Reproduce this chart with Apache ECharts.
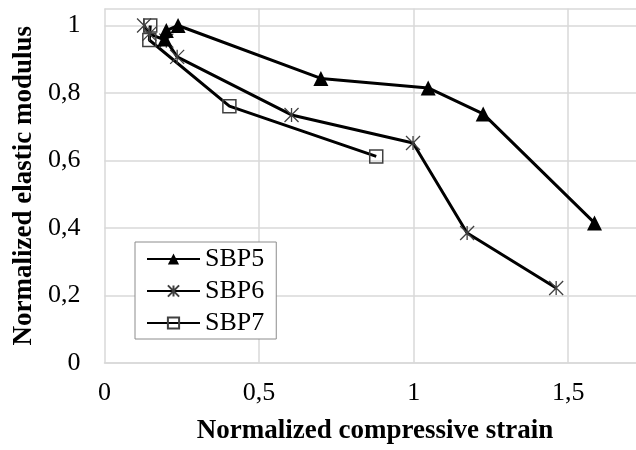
<!DOCTYPE html>
<html>
<head>
<meta charset="utf-8">
<script src="https://cdn.jsdelivr.net/npm/echarts@6/dist/echarts.min.js"></script>
<style>
  html, body { margin: 0; padding: 0; background: #fff; }
  #main { width: 636px; height: 450px; }
</style>
</head>
<body>
<div id="main"></div>
<script>
// values
var sbp5X = [0.195, 0.2, 0.238, 0.7, 1.047, 1.225, 1.585]
var sbp5Y = [0.96, 0.985, 1.0, 0.843, 0.815, 0.738, 0.415]
var sbp6X = [0.128, 0.145, 0.2, 0.235, 0.605, 0.998, 1.173, 1.461]
var sbp6Y = [1.0, 0.975, 0.955, 0.907, 0.735, 0.652, 0.385, 0.222]
var sbp7X = [0.148, 0.145, 0.404, 0.879]
var sbp7Y = [1.0, 0.957, 0.761, 0.612]

var FONT = 'Liberation Serif'
var STAR = 'path://M0,0L10,10M10,0L0,10M5,0L5,10'

function pairs(xs, ys) {
  var out = []
  for (var i = 0; i < xs.length; i++) out.push([xs[i], ys[i]])
  return out
}
function comma(v) {
  return String(v).replace('.', ',')
}

var chart = echarts.init(document.getElementById('main'))

var option = {
  animation: false,
  textStyle: { fontFamily: FONT },
  // plot runs past the right edge of the picture
  grid: { left: 104.5, top: 8.6, width: 541, height: 354.4, outerBoundsMode: 'none', containLabel: false },
  legend: {
    orient: 'vertical',
    left: 135,
    top: 242,
    padding: [4, 12, 3, 11],
    backgroundColor: '#fff',
    borderColor: '#8c8c8c',
    borderWidth: 1,
    itemWidth: 53,
    itemHeight: 14,
    itemGap: 6,
    textStyle: { fontFamily: FONT, fontSize: 26, color: '#000', lineHeight: 26 },
    data: ['SBP5', 'SBP6', 'SBP7']
  },
  xAxis: {
    type: 'value',
    min: 0,
    max: 1.75,
    interval: 0.5,
    name: 'Normalized compressive strain',
    nameLocation: 'middle',
    nameGap: 55,
    nameTextStyle: { fontFamily: FONT, fontSize: 27, fontWeight: 'bold', color: '#000' },
    axisLine: { show: true, lineStyle: { color: '#d9d9d9', width: 1.5 } },
    axisTick: { show: false },
    axisLabel: { fontFamily: FONT, fontSize: 26, color: '#000', margin: 17, showMaxLabel: false, formatter: comma },
    splitLine: { show: true, lineStyle: { color: '#d9d9d9', width: 1.5 } }
  },
  yAxis: {
    type: 'value',
    min: 0,
    max: 1.05,
    interval: 0.2,
    name: 'Normalized elastic modulus',
    nameLocation: 'middle',
    nameGap: 64,
    nameTextStyle: { fontFamily: FONT, fontSize: 27, fontWeight: 'bold', color: '#000' },
    axisLine: { show: false },
    axisTick: { show: false },
    axisLabel: { fontFamily: FONT, fontSize: 26, color: '#000', margin: 24, showMaxLabel: false, formatter: comma },
    splitLine: { show: true, lineStyle: { color: '#d9d9d9', width: 1.5 } }
  },
  series: [
    {
      name: 'SBP5',
      type: 'line',
      data: pairs(sbp5X, sbp5Y),
      symbol: 'triangle',
      symbolSize: 15,
      itemStyle: { color: '#000' },
      lineStyle: { color: '#000', width: 3 },
      z: 3
    },
    {
      name: 'SBP6',
      type: 'line',
      data: pairs(sbp6X, sbp6Y),
      symbol: STAR,
      symbolSize: 14,
      itemStyle: { color: 'transparent', borderColor: '#404040', borderWidth: 1.3 },
      lineStyle: { color: '#000', width: 3 },
      z: 2
    },
    {
      name: 'SBP7',
      type: 'line',
      data: pairs(sbp7X, sbp7Y),
      symbol: 'rect',
      symbolSize: 13,
      itemStyle: { color: 'transparent', borderColor: '#404040', borderWidth: 1.5 },
      lineStyle: { color: '#000', width: 3 },
      z: 2
    }
  ]
}

chart.setOption(option)
</script>
</body>
</html>
